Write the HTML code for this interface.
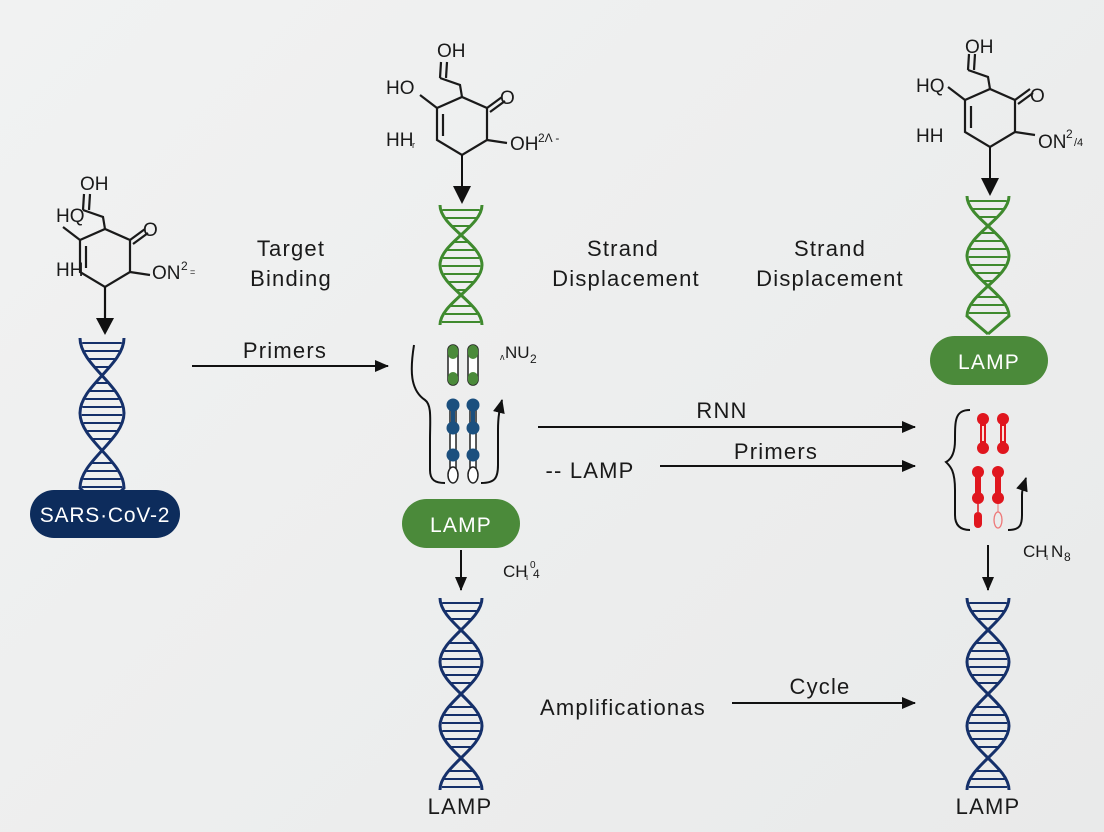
<!DOCTYPE html>
<html><head><meta charset="utf-8">
<style>
html,body{margin:0;padding:0}
body{width:1104px;height:832px;overflow:hidden;background:linear-gradient(135deg,#f1f2f2,#e9eaea);font-family:"Liberation Sans",sans-serif}
svg{position:absolute;left:0;top:0}
text{font-family:"Liberation Sans",sans-serif;fill:#1a1a1a}
.lb{font-size:22px;letter-spacing:1.2px}
</style></head><body>
<svg id="s" width="1104" height="832" viewBox="0 0 1104 832">
<defs>
<marker id="ah" markerWidth="14" markerHeight="14" refX="13" refY="7" orient="auto" markerUnits="userSpaceOnUse" viewBox="0 0 14 14">
<path d="M0,1 L14,7 L0,13 z" fill="#111"/></marker>
<g id="mol" stroke="#1a1a1a" stroke-width="2.2" fill="none">
<path d="M-25,-18 L0,-29 L25,-18 L25,14 L0,29 L-25,14 Z"/>
<path d="M-19,-12 L-19,10"/>
<path d="M0,-29 L-2,-41 L-22,-48"/>
<path d="M-22,-48 L-21,-64 M-16,-48 L-15,-64"/>
<path d="M-42,-31 L-25,-18"/>
<path d="M25,-18 L40,-29 M28,-14 L43,-25"/>
<path d="M25,14 L45,17"/>
</g>
</defs>

<g transform="translate(105,258)"><use href="#mol"/></g>
<text x="80" y="190" font-size="19">OH</text>
<text x="56" y="222" font-size="19">HQ</text>
<text x="143" y="236" font-size="19">O</text>
<text x="56" y="276" font-size="19">HH</text>
<text x="152" y="279" font-size="19">ON</text><text x="181" y="270" font-size="12">2</text><text x="190" y="275" font-size="9">=</text>
<line x1="105" y1="287" x2="105" y2="320" stroke="#111" stroke-width="2.2"/><path d="M96,318 L114,318 L105,335 z" fill="#111"/>

<g transform="translate(462,126)"><use href="#mol"/></g>
<text x="437" y="57" font-size="19">OH</text>
<text x="386" y="94" font-size="19">HO</text>
<text x="500" y="104" font-size="19">O</text>
<text x="386" y="146" font-size="19">HH</text><text x="412" y="148" font-size="9">r</text>
<text x="510" y="150" font-size="19">OH</text><text x="538" y="142" font-size="12">2Λ -</text>
<line x1="462" y1="155" x2="462" y2="188" stroke="#111" stroke-width="2"/><path d="M453,186 L471,186 L462,204 z" fill="#111"/>

<g transform="translate(990,118)"><use href="#mol"/></g>
<text x="965" y="53" font-size="19">OH</text>
<text x="916" y="92" font-size="19">HQ</text>
<text x="1030" y="102" font-size="19">O</text>
<text x="916" y="142" font-size="19">HH</text>
<text x="1038" y="148" font-size="19">ON</text><text x="1066" y="138" font-size="12">2</text><text x="1074" y="146" font-size="11">/4</text>
<line x1="990" y1="147" x2="990" y2="180" stroke="#111" stroke-width="2"/><path d="M981,178 L999,178 L990,196 z" fill="#111"/>

<g id="helices"></g>

<rect x="30" y="490" width="150" height="48" rx="24" fill="#0d2c5c"/>
<text x="105" y="522" font-size="21" style="fill:#fff;letter-spacing:0.8px" text-anchor="middle">SARS·CoV-2</text>
<rect x="402" y="499" width="118" height="49" rx="24.5" fill="#4b8a3a"/>
<text x="461" y="532" font-size="21" style="fill:#fff;letter-spacing:1.2px" text-anchor="middle">LAMP</text>
<rect x="930" y="336" width="118" height="49" rx="24.5" fill="#4b8a3a"/>
<text x="989" y="369" font-size="21" style="fill:#fff;letter-spacing:1.2px" text-anchor="middle">LAMP</text>

<g class="lb" text-anchor="middle">
<text x="291" y="256">Target</text><text x="291" y="286">Binding</text>
<text x="623" y="256">Strand</text><text x="626" y="286">Displacement</text>
<text x="830" y="256">Strand</text><text x="830" y="286">Displacement</text>
<text x="285" y="358">Primers</text>
<text x="722" y="418">RNN</text>
<text x="776" y="459">Primers</text>
<text x="590" y="478">-- LAMP</text>
<text x="623" y="715">Amplificationas</text>
<text x="820" y="694">Cycle</text>
<text x="460" y="814">LAMP</text>
<text x="988" y="814">LAMP</text>
</g>
<text x="503" y="577" font-size="17">CH</text><text x="526" y="580" font-size="9">ι</text><text x="530" y="568" font-size="10">0</text><text x="533" y="578" font-size="12">4</text>
<text x="1023" y="557" font-size="17">CH</text><text x="1046" y="560" font-size="9">ι</text><text x="1051" y="557" font-size="17">N</text><text x="1064" y="561" font-size="12">8</text>
<text x="500" y="360" font-size="9">ʌ</text><text x="505" y="358" font-size="17">NU</text><text x="530" y="363" font-size="12">2</text>

<g stroke="#111" stroke-width="2" fill="none" marker-end="url(#ah)">
<line x1="192" y1="366" x2="388" y2="366"/>
<line x1="538" y1="427" x2="915" y2="427"/>
<line x1="660" y1="466" x2="915" y2="466"/>
<line x1="732" y1="703" x2="915" y2="703"/>
<line x1="461" y1="550" x2="461" y2="590"/>
<line x1="988" y1="545" x2="988" y2="590"/>
</g>

<g stroke="#111" stroke-width="2" fill="none">
<path d="M414,345 C410,370 410,390 425,400 C432,405 430,420 430,440 L430,470 C430,480 435,483 445,483"/>
<path d="M481,483 C495,483 498,478 498,465 L498,430 C498,415 500,408 502,400" marker-end="url(#ah)"/>
</g>
<g stroke="#222" stroke-width="1.5">
<rect x="448" y="345" width="10" height="40" rx="5" fill="#fff"/>
<rect x="468" y="345" width="10" height="40" rx="5" fill="#fff"/>
</g>
<g fill="#4b8a3a"><rect x="448" y="345" width="10" height="14" rx="5"/><rect x="468" y="345" width="10" height="14" rx="5"/><rect x="448" y="372" width="10" height="13" rx="5"/><rect x="468" y="372" width="10" height="13" rx="5"/></g>
<g stroke="#222" stroke-width="1.5" fill="#fff"><rect x="450" y="405" width="6" height="70" /><rect x="470" y="405" width="6" height="70"/><ellipse cx="453" cy="475" rx="5" ry="8"/><ellipse cx="473" cy="475" rx="5" ry="8"/></g>
<g fill="#1b4f7e"><circle cx="453" cy="405" r="6.5"/><circle cx="473" cy="405" r="6.5"/><circle cx="453" cy="428" r="6.5"/><circle cx="473" cy="428" r="6.5"/><circle cx="453" cy="455" r="6.5"/><circle cx="473" cy="455" r="6.5"/><rect x="451" y="410" width="4" height="15"/><rect x="471" y="410" width="4" height="15"/></g>

<g stroke="#111" stroke-width="2" fill="none">
<path d="M970,410 C955,410 955,420 955,440 C955,455 950,460 946,462 C950,466 955,470 955,490 L955,515 C955,525 960,530 970,530"/>
<path d="M1008,530 C1020,530 1022,525 1022,515 L1022,495 C1022,488 1024,484 1026,478" marker-end="url(#ah)"/>
</g>
<g fill="#e0161e">
<circle cx="983" cy="419" r="6"/><circle cx="1003" cy="419" r="6"/><circle cx="983" cy="448" r="6"/><circle cx="1003" cy="448" r="6"/>
<rect x="980" y="419" width="6" height="29"/><rect x="1000" y="419" width="6" height="29"/>
<circle cx="978" cy="472" r="6"/><circle cx="998" cy="472" r="6"/><circle cx="978" cy="498" r="6"/><circle cx="998" cy="498" r="6"/>
<rect x="975" y="472" width="6" height="26"/><rect x="995" y="472" width="6" height="26"/>
<rect x="974" y="512" width="8" height="16" rx="4"/>
</g>
<g><rect x="982" y="426" width="2" height="15" style="fill:#f8e0d8"/><rect x="1002" y="426" width="2" height="15" style="fill:#f8e0d8"/></g>
<path d="M978,504 L978,512" stroke="#e0161e" stroke-width="1.5"/><path d="M998,504 L998,512" stroke="#e88" stroke-width="1.2"/>
<ellipse cx="998" cy="520" rx="4" ry="8" fill="none" stroke="#e77" stroke-width="1.3"/>
</svg>
<script>
function helix(cx,y0,h,a,L,color,tail){
  var ns="http://www.w3.org/2000/svg",g=document.getElementById("helices");
  var n=Math.round(h/L),d1="",d2="",y=y0,s=1;
  d1="M"+(cx-a)+","+y0;d2="M"+(cx+a)+","+y0;
  for(var i=0;i<n;i++){
    var ye=y+L;
    d1+=" C"+(cx-a*s)+","+(y+L*0.36)+" "+(cx+a*s)+","+(ye-L*0.36)+" "+(cx+a*s)+","+ye;
    d2+=" C"+(cx+a*s)+","+(y+L*0.36)+" "+(cx-a*s)+","+(ye-L*0.36)+" "+(cx-a*s)+","+ye;
    y=ye;s=-s;
  }
  if(tail){d1+=" L"+cx+","+(y+tail);d2+=" L"+cx+","+(y+tail);}
  [d1,d2].forEach(function(d){var p=document.createElementNS(ns,"path");p.setAttribute("d",d);p.setAttribute("stroke",color);p.setAttribute("stroke-width","3");p.setAttribute("fill","none");g.appendChild(p);});
  for(var yy=y0+5;yy<y0+n*L;yy+=8){
    var t=(yy-y0)/L,ph=t*Math.PI,w=Math.abs(Math.cos(ph))*a*0.92;
    if(w<5)continue;
    var l=document.createElementNS(ns,"line");l.setAttribute("x1",cx-w);l.setAttribute("x2",cx+w);l.setAttribute("y1",yy);l.setAttribute("y2",yy);l.setAttribute("stroke",color);l.setAttribute("stroke-width","2");g.appendChild(l);
  }
}
helix(102,338,150,22,75,"#15306a",22);
helix(461,205,120,21,60,"#3f8a2e",0);
helix(988,196,120,21,60,"#3f8a2e",18);
helix(461,598,192,21,64,"#15306a",0);
helix(988,598,192,21,64,"#15306a",0);
</script>
</body></html>
